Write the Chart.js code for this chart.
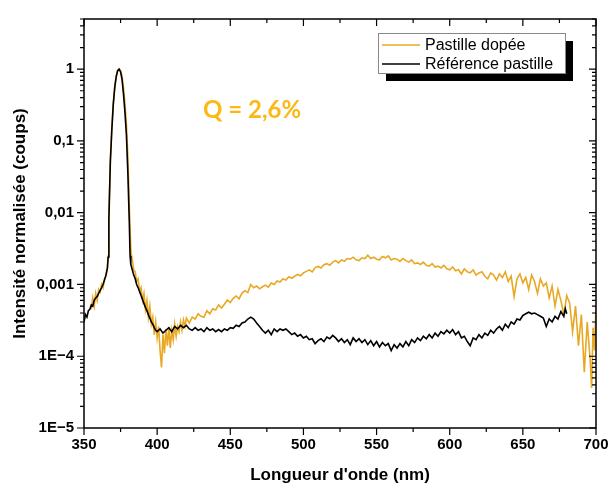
<!DOCTYPE html>
<html>
<head>
<meta charset="utf-8">
<script src="https://cdn.jsdelivr.net/npm/chart.js@4.4.1/dist/chart.umd.min.js"></script>
<style>
  html, body { margin: 0; padding: 0; background: #fff; }
  #wrap { width: 608px; height: 486px; }
</style>
</head>
<body>
<div id="wrap"><canvas id="mycanvas" width="608" height="486"></canvas></div>
<script>
// wavelength (nm) and normalised intensity
var wlDoped = [355,356,357,358,359,360,361,362,363,364,365,366,366.5,367,368,369,370,371,372,373,374,375,376,377,378,379,380,381,382,383,384,385,386,387,388,389,390,391,392,393,394,395,396,397,398,399,400,401,402,403,404,405,406,407,408,409,410,411,412,413,414,415,416,417,418,419,420,
  422,424,426,428,430,432,434,436,438,440,442,444,446,448,450,452,454,456,458,460,462,464,466,468,470,472,474,476,478,480,482,484,486,488,490,492,494,496,498,500,
  502,504,506,508,510,512,514,516,518,520,522,524,526,528,530,532,534,536,538,540,542,544,546,548,550,552,554,556,558,560,562,564,566,568,570,572,574,576,578,580,
  582,584,586,588,590,592,594,596,598,600,602,604,606,608,610,612,614,616,618,620,622,624,626,628,630,632,634,636,638,640,642,644,646,648,650,652,654,656,658,660,
  662,664,666,668,670,672,674,676,678,680,682,684,686,688,690,692,694,696,697,698,699,700];
var valDoped = [4.5e-4,6.5e-4,5.0e-4,7.5e-4,6.0e-4,8.5e-4,7.8e-4,1.0e-3,9.0e-4,1.2e-3,1.3e-3,1.7e-3,2.5e-3,0.009,0.055,0.15,0.33,0.56,0.8,0.96,1.0,0.95,0.8,0.55,0.33,0.17,0.06,0.012,0.003,2.2e-3,1.6e-3,1.5e-3,1.1e-3,1.2e-3,8.0e-4,9.0e-4,6.0e-4,7.5e-4,4.5e-4,6.0e-4,3.5e-4,5.0e-4,2.8e-4,3.5e-4,2.0e-4,3.0e-4,1.8e-4,2.6e-4,1.2e-4,7.0e-5,2.0e-4,1.1e-4,2.4e-4,1.4e-4,2.5e-4,1.3e-4,2.3e-4,1.7e-4,2.8e-4,1.9e-4,2.6e-4,2.2e-4,3.0e-4,2.3e-4,3.2e-4,2.6e-4,3.4e-4,
  2.9e-4,3.5e-4,3.3e-4,3.9e-4,3.6e-4,3.5e-4,4.3e-4,3.9e-4,4.6e-4,4.4e-4,5.2e-4,4.7e-4,5.3e-4,6.1e-4,5.6e-4,6.4e-4,6.9e-4,6.3e-4,7.6e-4,8.2e-4,7.7e-4,1.0e-3,9.0e-4,9.5e-4,8.7e-4,9.3e-4,9.8e-4,9.2e-4,1.05e-3,1.0e-3,1.12e-3,1.08e-3,1.2e-3,1.15e-3,1.28e-3,1.22e-3,1.3e-3,1.38e-3,1.32e-3,1.45e-3,
  1.52e-3,1.6e-3,1.5e-3,1.72e-3,1.78e-3,1.7e-3,1.88e-3,1.95e-3,1.85e-3,2.05e-3,2.15e-3,2.0e-3,2.2e-3,2.1e-3,2.3e-3,2.25e-3,2.4e-3,2.2e-3,2.15e-3,2.35e-3,2.3e-3,2.55e-3,2.3e-3,2.4e-3,2.25e-3,2.2e-3,2.45e-3,2.35e-3,2.5e-3,2.2e-3,2.3e-3,2.25e-3,2.1e-3,2.3e-3,2.15e-3,2.05e-3,2.2e-3,1.95e-3,2.0e-3,1.9e-3,
  2.05e-3,1.85e-3,1.8e-3,1.95e-3,1.75e-3,1.8e-3,1.7e-3,1.85e-3,1.65e-3,1.6e-3,1.75e-3,1.55e-3,1.6e-3,1.4e-3,1.65e-3,1.5e-3,1.45e-3,1.6e-3,1.35e-3,1.45e-3,1.5e-3,1.3e-3,1.2e-3,1.45e-3,1.35e-3,1.15e-3,1.4e-3,1.25e-3,1.5e-3,1.1e-3,1.3e-3,6.8e-4,1.2e-3,1.4e-3,1.05e-3,1.25e-3,8.5e-4,1.35e-3,1.1e-3,7.5e-4,
  1.2e-3,9.5e-4,1.05e-3,6.5e-4,9.5e-4,5.0e-4,8.5e-4,6.0e-4,3.8e-4,7.0e-4,5.5e-4,2.2e-4,5.0e-4,1.4e-4,3.8e-4,6.0e-5,3.0e-4,9.0e-5,3.6e-5,2.5e-4,1.2e-4,5.0e-4];

var wlRef = [350,351,352,353,354,355,356,357,358,359,360,361,362,363,364,365,366,366.5,367,368,369,370,371,372,373,374,375,376,377,378,379,380,381,381.5,382,383,384,385,386,387,388,389,390,391,392,393,394,395,396,397,398,399,400,
  402,404,406,408,410,412,414,416,418,420,422,424,426,428,430,432,434,436,438,440,442,444,446,448,450,452,454,456,458,460,462,464,466,468,470,472,474,476,478,480,
  482,484,486,488,490,492,494,496,498,500,502,504,506,508,510,512,514,516,518,520,522,524,526,528,530,532,534,536,538,540,542,544,546,548,550,552,554,556,558,560,
  562,564,566,568,570,572,574,576,578,580,582,584,586,588,590,592,594,596,598,600,602,604,606,608,610,612,614,616,618,620,622,624,626,628,630,632,634,636,638,640,
  642,644,646,648,650,652,654,656,658,660,662,664,666,668,670,672,674,676,678,679,680];
var valRef = [3.0e-4,3.8e-4,3.5e-4,4.3e-4,4.5e-4,5.2e-4,5.0e-4,6.0e-4,6.5e-4,6.8e-4,7.5e-4,8.2e-4,9.0e-4,1.0e-3,1.15e-3,1.35e-3,1.7e-3,2.4e-3,0.008,0.05,0.14,0.32,0.55,0.78,0.95,1.0,0.92,0.72,0.45,0.25,0.12,0.035,0.007,0.0025,1.9e-3,1.6e-3,1.35e-3,1.2e-3,1.0e-3,9.0e-4,8.0e-4,7.0e-4,6.2e-4,5.4e-4,4.8e-4,4.3e-4,3.8e-4,3.4e-4,3.0e-4,2.8e-4,2.5e-4,2.3e-4,2.2e-4,
  2.4e-4,2.1e-4,2.3e-4,2.5e-4,2.2e-4,2.6e-4,2.4e-4,2.7e-4,2.5e-4,2.7e-4,2.4e-4,2.3e-4,2.5e-4,2.3e-4,2.4e-4,2.2e-4,2.5e-4,2.3e-4,2.4e-4,2.2e-4,2.35e-4,2.2e-4,2.4e-4,2.3e-4,2.5e-4,2.45e-4,2.7e-4,2.6e-4,2.9e-4,3.0e-4,3.3e-4,3.5e-4,3.3e-4,2.9e-4,2.6e-4,2.3e-4,2.1e-4,2.3e-4,2.0e-4,2.4e-4,
  2.2e-4,2.4e-4,2.3e-4,2.4e-4,2.2e-4,2.0e-4,2.1e-4,1.9e-4,2.0e-4,1.8e-4,1.9e-4,1.7e-4,1.75e-4,1.5e-4,1.65e-4,1.75e-4,1.6e-4,1.85e-4,1.75e-4,1.95e-4,1.8e-4,1.6e-4,1.75e-4,1.55e-4,1.7e-4,1.45e-4,1.8e-4,1.6e-4,1.75e-4,1.55e-4,1.7e-4,1.45e-4,1.65e-4,1.4e-4,1.6e-4,1.35e-4,1.55e-4,1.4e-4,1.5e-4,1.2e-4,
  1.45e-4,1.3e-4,1.5e-4,1.35e-4,1.6e-4,1.4e-4,1.7e-4,1.55e-4,1.8e-4,1.65e-4,1.9e-4,1.75e-4,2.0e-4,1.8e-4,2.1e-4,1.9e-4,2.2e-4,2.05e-4,2.3e-4,2.1e-4,2.35e-4,2.0e-4,2.2e-4,1.8e-4,1.9e-4,1.6e-4,1.4e-4,1.8e-4,1.7e-4,2.0e-4,1.8e-4,2.1e-4,1.95e-4,2.3e-4,2.1e-4,2.4e-4,2.6e-4,2.3e-4,2.8e-4,2.5e-4,
  3.0e-4,2.8e-4,3.3e-4,3.2e-4,3.7e-4,3.9e-4,4.1e-4,3.9e-4,4.0e-4,3.8e-4,3.6e-4,3.4e-4,2.6e-4,3.3e-4,3.0e-4,3.6e-4,3.3e-4,4.2e-4,3.6e-4,4.6e-4,3.9e-4];

var xTicks = [350,400,450,500,550,600,650,700];
var yTickVals = [1e-5,1e-4,1e-3,1e-2,1e-1,1];
var yTickLabels = ['1E\u22125','1E\u22124','0,001','0,01','0,1','1'];
var seriesNames = ['Pastille dopée','Référence pastille'];
var seriesColors = ['#E9A823','#000000'];

function toPoints(xs, ys){
	var pts = [];
	for(var i in xs){
		pts.push({x: xs[i], y: ys[i]});
	}
	return pts;
}

// frame with ticks on all four sides, legend box with shadow, Q label
var framePlugin = {
	id: 'frame',
	afterDatasetsDraw: function(chart){
		var ctx = chart.ctx;
		var a = chart.chartArea;
		var xs = chart.scales.x, ys = chart.scales.y;
		ctx.save();
		ctx.strokeStyle = '#000';
		ctx.lineWidth = 1.5;
		ctx.strokeRect(a.left, a.top, a.right - a.left, a.bottom - a.top);
		ctx.lineWidth = 1.2;
		ctx.beginPath();
		// x ticks every 25 nm
		for(var v = 350; v <= 700; v += 25){
			var px = xs.getPixelForValue(v);
			var len = (v % 50 === 0) ? 7 : 4;
			ctx.moveTo(px, a.bottom); ctx.lineTo(px, a.bottom + len);
			ctx.moveTo(px, a.top); ctx.lineTo(px, a.top + len);
		}
		// log ticks
		for(var e = -5; e <= 0; e++){
			for(var m = 1; m <= 9; m++){
				var val = m * Math.pow(10, e);
				if(val > ys.max) break;
				var py = ys.getPixelForValue(val);
				var l = (m === 1) ? 7 : 4;
				ctx.moveTo(a.left, py); ctx.lineTo(a.left - l, py);
				ctx.moveTo(a.right, py); ctx.lineTo(a.right - l, py);
			}
		}
		ctx.stroke();

		// legend
		var bx = 378, by = 33, bw = 187, bh = 40;
		ctx.fillStyle = '#000';
		ctx.fillRect(bx + 8, by + 8, bw, bh);
		ctx.fillStyle = '#fff';
		ctx.fillRect(bx, by, bw, bh);
		ctx.strokeStyle = '#888';
		ctx.lineWidth = 1;
		ctx.strokeRect(bx + 0.5, by + 0.5, bw, bh);
		ctx.font = '16px "Liberation Sans", Arial, sans-serif';
		ctx.textBaseline = 'middle';
		ctx.textAlign = 'left';
		for(var i = 0; i < seriesNames.length; i++){
			var ry = by + 12 + i * 19;
			ctx.strokeStyle = seriesColors[i];
			ctx.lineWidth = 1.6;
			ctx.beginPath();
			ctx.moveTo(bx + 4, ry); ctx.lineTo(bx + 42, ry);
			ctx.stroke();
			ctx.fillStyle = '#000';
			ctx.fillText(seriesNames[i], bx + 47, ry + 1);
		}

		// annotation
		ctx.fillStyle = '#FDB813';
		ctx.font = 'bold 24px Lato, "Open Sans", sans-serif';
		ctx.textBaseline = 'alphabetic';
		ctx.fillText('Q = 2,6%', 203, 118);
		ctx.restore();
	}
};

var chartdata = {
	datasets: [
	{
		label: seriesNames[0],
		data: toPoints(wlDoped, valDoped),
		borderColor: seriesColors[0],
		borderWidth: 1.6,
		pointRadius: 0,
		fill: false,
		lineTension: 0,
		order: 2
	},
	{
		label: seriesNames[1],
		data: toPoints(wlRef, valRef),
		borderColor: seriesColors[1],
		borderWidth: 1.6,
		pointRadius: 0,
		fill: false,
		lineTension: 0,
		order: 1
	}
	]
};

var ctx = document.getElementById('mycanvas');
var LineGraph = new Chart(ctx, {
	type: 'line',
	data: chartdata,
	plugins: [framePlugin],
	options: {
		responsive: false,
		animation: false,
		layout: { padding: { top: 19, right: 12, left: 0, bottom: 0 } },
		plugins: {
			legend: { display: false },
			tooltip: { enabled: false }
		},
		scales: {
			x: {
				type: 'linear',
				min: 350,
				max: 700,
				grid: { display: false, drawTicks: false },
				border: { display: false },
				afterBuildTicks: function(scale){
					scale.ticks = xTicks.map(function(v){ return {value: v}; });
				},
				afterFit: function(scale){
					scale.height = 58;
					scale.paddingLeft = 0;
					scale.paddingRight = 0;
				},
				ticks: {
					color: '#000',
					padding: 8,
					maxRotation: 0,
					autoSkip: false,
					font: { family: '"Liberation Sans", Arial, sans-serif', size: 15, weight: 'bold' }
				},
				title: {
					display: true,
					text: "Longueur d'onde (nm)",
					color: '#000',
					padding: { top: 9, bottom: 0 },
					font: { family: '"Liberation Sans", Arial, sans-serif', size: 17, weight: 'bold' }
				}
			},
			y: {
				type: 'logarithmic',
				min: 1e-5,
				max: 5,
				grid: { display: false, drawTicks: false },
				border: { display: false },
				afterBuildTicks: function(scale){
					scale.ticks = yTickVals.map(function(v){ return {value: v}; });
				},
				afterFit: function(scale){
					scale.width = 84;
					scale.paddingTop = 0;
					scale.paddingBottom = 0;
				},
				ticks: {
					color: '#000',
					padding: 10,
					autoSkip: false,
					callback: function(value){
						var k = yTickVals.indexOf(value);
						return k >= 0 ? yTickLabels[k] : '';
					},
					font: { family: '"Liberation Sans", Arial, sans-serif', size: 15, weight: 'bold' }
				},
				title: {
					display: true,
					text: 'Intensité normalisée (coups)',
					color: '#000',
					padding: { top: 10, bottom: 0 },
					font: { family: '"Liberation Sans", Arial, sans-serif', size: 17, weight: 'bold' }
				}
			}
		}
	}
});
</script>
</body>
</html>
